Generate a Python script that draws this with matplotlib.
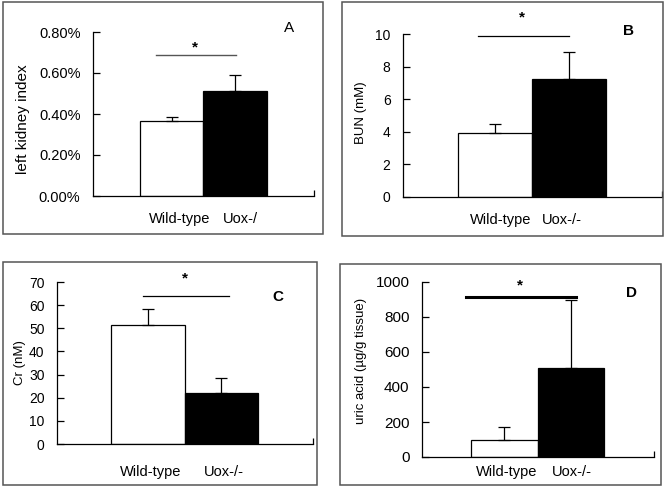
import matplotlib.pyplot as plt
from matplotlib.patches import Rectangle
from matplotlib.ticker import PercentFormatter

plt.rcParams['font.family'] = ['Liberation Sans', 'DejaVu Sans']

# data
groups = ["Wild-type", "Uox-/-"]
kidney_index = [0.367, 0.51]      # %
kidney_se = [0.02, 0.08]
bun = [3.9, 7.22]                  # mM
bun_se = [0.6, 1.7]
cr = [51.4, 21.9]                  # nM
cr_se = [6.8, 6.5]
uric = [95, 507]                   # ug/g tissue
uric_se = [78, 390]

W, H = 665, 495
fig = plt.figure(figsize=(W / 100, H / 100), dpi=100)


def px_axes(l, t, r, b):
    return fig.add_axes([l / W, 1 - b / H, (r - l) / W, (b - t) / H])


def frame(l, t, r, b):
    fig.add_artist(Rectangle((l / W, 1 - b / H), (r - l) / W, (b - t) / H,
                             transform=fig.transFigure, fill=False,
                             edgecolor="#555555", linewidth=1.1))


def panel(ax, vals, se, ymax, ystep, ylabel, letter, cats, sig, tick_fs=10):
    x = [0, 1]
    ax.bar(x, vals, width=1.0, color=["white", "black"], edgecolor="black",
           linewidth=0.9, zorder=2)
    ax.errorbar(x, vals, yerr=[[0, 0], se], fmt="none", ecolor="black",
                elinewidth=0.9, capsize=4, capthick=0.9, zorder=3)
    ax.set_xlim(-1.24, 2.25)
    ax.set_ylim(0, ymax)
    ax.set_yticks([i * ystep for i in range(int(round(ymax / ystep)) + 1)])
    ax.set_xticks([2.25])
    ax.set_xticklabels([])
    ax.tick_params(axis="y", direction="in", length=5, width=0.9, pad=9,
                   labelsize=tick_fs)
    ax.tick_params(axis="x", direction="in", length=4, width=0.9)
    for s in ["top", "right"]:
        ax.spines[s].set_visible(False)
    for s in ["left", "bottom"]:
        ax.spines[s].set_linewidth(0.9)
    ax.set_ylabel(ylabel)
    ax.text(letter[1], letter[2], letter[0], fontsize=11, ha="center",
            va="center", fontweight="bold" if letter[0] != "A" else "normal",
            clip_on=False)
    for name, cx, off in cats:
        ax.annotate(name, xy=(cx, 0), xycoords=("data", "axes fraction"),
                    xytext=(0, -off), textcoords="offset points",
                    ha="center", va="center", fontsize=10.5)
    x0, x1, ys, ystar, col, lw = sig
    ax.plot([x0, x1], [ys, ys], color=col, linewidth=lw, clip_on=False)
    ax.text((x0 + x1) / 2 - 0.02, ystar, "*", ha="center", va="center",
            fontsize=11, fontweight="bold", clip_on=False)


# A
frame(3, 2, 323, 234)
axA = px_axes(93, 32, 314, 196)
panel(axA, kidney_index, kidney_se, 0.8, 0.2, "left kidney index",
      ("A", 1.85, 0.82),
      [("Wild-type", 0.135, 16.5), ("Uox-/", 1.09, 16.5)],
      (-0.25, 1.02, 0.688, 0.725, "#555555", 1.0), tick_fs=10.5)
axA.yaxis.set_major_formatter(PercentFormatter(100, decimals=2))
axA.yaxis.label.set_fontsize(11)
axA.yaxis.set_label_coords(-0.285, 0.47)

# B
frame(342, 2, 663, 236)
axB = px_axes(403, 34, 662, 197)
panel(axB, bun, bun_se, 10, 2, "BUN (mM)", ("B", 1.80, 10.18),
      [("Wild-type", 0.07, 16.5), ("Uox-/-", 0.905, 16.5)],
      (-0.23, 1.0, 9.88, 11.0, "black", 0.9))
axB.yaxis.label.set_fontsize(9.5)
axB.yaxis.set_label_coords(-0.138, 0.52)

# C
frame(3, 262, 317, 485)
axC = px_axes(57, 282, 313, 444)
panel(axC, cr, cr_se, 70, 10, "Cr (nM)", ("C", 1.77, 63.5),
      [("Wild-type", 0.04, 20), ("Uox-/-", 1.03, 20)],
      (-0.065, 1.105, 64.0, 71.7, "black", 0.9))
axC.yaxis.label.set_fontsize(9.5)
axC.yaxis.set_label_coords(-0.122, 0.5)

# D
frame(340, 264, 661, 485)
axD = px_axes(422, 282, 654, 457)
panel(axD, uric, uric_se, 1000, 200, "uric acid (\u00b5g/g tissue)",
      ("D", 1.91, 937),
      [("Wild-type", 0.04, 11), ("Uox-/-", 1.02, 11)],
      (-0.575, 1.08, 914, 983, "black", 2.2), tick_fs=11)
axD.yaxis.label.set_fontsize(9.5)
axD.yaxis.set_label_coords(-0.237, 0.55)

fig.savefig("out.png", dpi=100)
